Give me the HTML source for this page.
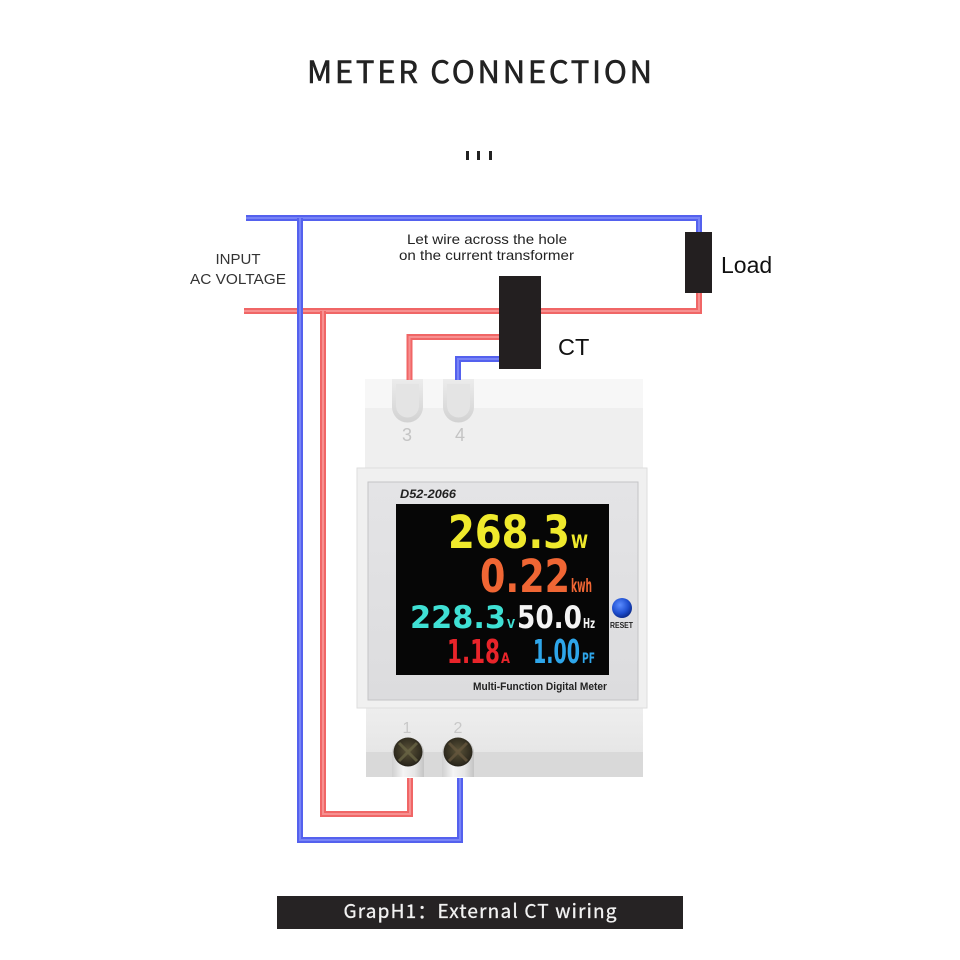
<!DOCTYPE html>
<html><head><meta charset="utf-8"><style>
html,body{margin:0;padding:0;background:#fff;}
svg{display:block;}
</style></head><body>
<svg width="960" height="960" viewBox="0 0 960 960" xmlns="http://www.w3.org/2000/svg">
<defs>
<radialGradient id="btn" cx="0.4" cy="0.35" r="0.7">
<stop offset="0" stop-color="#5a8cff"/><stop offset="0.6" stop-color="#1f4fd0"/><stop offset="1" stop-color="#0a2682"/>
</radialGradient>
<radialGradient id="scr" cx="0.5" cy="0.45" r="0.6">
<stop offset="0" stop-color="#5a5238"/><stop offset="0.8" stop-color="#2e2a1e"/><stop offset="1" stop-color="#1a1812"/>
</radialGradient>
<linearGradient id="cyl" x1="0" x2="1" y1="0" y2="0">
<stop offset="0" stop-color="#d0d0d0"/><stop offset="0.35" stop-color="#f4f4f4"/><stop offset="0.7" stop-color="#e6e6e6"/><stop offset="1" stop-color="#c4c4c4"/>
</linearGradient>
<linearGradient id="pocket" x1="0" x2="0" y1="0" y2="1">
<stop offset="0" stop-color="#ececec"/><stop offset="1" stop-color="#d2d2d2"/>
</linearGradient>
<linearGradient id="face" x1="0" x2="0" y1="0" y2="1">
<stop offset="0" stop-color="#e4e4e6"/><stop offset="1" stop-color="#dcdcde"/>
</linearGradient>
<linearGradient id="bot" x1="0" x2="0" y1="0" y2="1">
<stop offset="0" stop-color="#eeeeee"/><stop offset="1" stop-color="#e2e2e2"/>
</linearGradient>
</defs>

<!-- Title -->
<text x="307" y="83" font-family="'Noto Sans CJK SC','Liberation Sans',sans-serif" font-size="31" fill="#222" stroke="#222" stroke-width="0.6" textLength="345" lengthAdjust="spacing">METER CONNECTION</text>
<rect x="466" y="151" width="3" height="9" fill="#222"/>
<rect x="477" y="151" width="3" height="9" fill="#222"/>
<rect x="489" y="151" width="3" height="9" fill="#222"/>

<!-- Labels -->
<text x="238" y="264" text-anchor="middle" font-family="'Liberation Sans',sans-serif" font-size="15" fill="#333">INPUT</text>
<text x="190" y="284" font-family="'Liberation Sans',sans-serif" font-size="15" fill="#333" textLength="96" lengthAdjust="spacingAndGlyphs">AC VOLTAGE</text>
<text x="407" y="244" font-family="'Liberation Sans',sans-serif" font-size="14" fill="#222" textLength="160" lengthAdjust="spacingAndGlyphs">Let wire across the hole</text>
<text x="399" y="260" font-family="'Liberation Sans',sans-serif" font-size="14" fill="#222" textLength="175" lengthAdjust="spacingAndGlyphs">on the current transformer</text>

<!-- Meter body -->
<rect x="365" y="379" width="278" height="92" fill="#efefef"/>
<rect x="365" y="379" width="278" height="29" fill="#f7f7f7"/>
<!-- top pockets -->
<path d="M392,379 V407 A15.5,15.5 0 0 0 423,407 V379 Z" fill="url(#pocket)"/>
<path d="M396,384 V406 A11.5,11.5 0 0 0 419,406 V384 Z" fill="#e4e4e4"/>
<path d="M443,379 V407 A15.5,15.5 0 0 0 474,407 V379 Z" fill="url(#pocket)"/>
<path d="M447,384 V406 A11.5,11.5 0 0 0 470,406 V384 Z" fill="#e4e4e4"/>
<text x="407" y="441" text-anchor="middle" font-family="'Liberation Sans',sans-serif" font-size="18" fill="#c4c4c4">3</text>
<text x="460" y="441" text-anchor="middle" font-family="'Liberation Sans',sans-serif" font-size="18" fill="#c4c4c4">4</text>

<!-- bottom module -->
<rect x="366" y="706" width="277" height="71" fill="url(#bot)"/>
<rect x="366" y="752" width="277" height="25" fill="#d9d9d9"/>
<text x="407" y="733" text-anchor="middle" font-family="'Liberation Sans',sans-serif" font-size="16" fill="#c8c8c8">1</text>
<text x="458" y="733" text-anchor="middle" font-family="'Liberation Sans',sans-serif" font-size="16" fill="#c8c8c8">2</text>
<path d="M392,777 V753 A16,16 0 0 1 424,753 V777 Z" fill="url(#cyl)"/>
<path d="M442,777 V753 A16,16 0 0 1 474,753 V777 Z" fill="url(#cyl)"/>
<circle cx="408" cy="752" r="14.5" fill="url(#scr)"/>
<circle cx="458" cy="752" r="14.5" fill="url(#scr)"/>
<path d="M399,743 L417,761 M417,743 L399,761" stroke="#6e6a48" stroke-width="3" opacity="0.7"/>
<path d="M449,743 L467,761 M467,743 L449,761" stroke="#6a5a40" stroke-width="3" opacity="0.7"/>

<!-- front frame -->
<rect x="357" y="468" width="290" height="240" fill="#f0f0f0" stroke="#dedede" stroke-width="1"/>
<rect x="368" y="482" width="270" height="218" fill="url(#face)" stroke="#c4c4c6" stroke-width="1"/>
<rect x="396" y="504" width="213" height="171" fill="#060606"/>
<text x="400" y="498" font-family="'Liberation Sans',sans-serif" font-size="12" font-weight="bold" font-style="italic" fill="#222" textLength="56" lengthAdjust="spacingAndGlyphs">D52-2066</text>

<!-- display values -->
<g font-family="'DejaVu Sans','Liberation Sans',sans-serif" font-weight="bold">
<text x="448" y="548" font-size="45" fill="#efe92c" textLength="122" lengthAdjust="spacingAndGlyphs">268.3</text>
<text x="571" y="548" font-size="19" fill="#efe92c" textLength="17" lengthAdjust="spacingAndGlyphs">W</text>
<text x="480" y="592" font-size="45" fill="#f06634" textLength="90" lengthAdjust="spacingAndGlyphs">0.22</text>
<text x="571" y="592" font-size="19" fill="#f06634" textLength="21" lengthAdjust="spacingAndGlyphs">kwh</text>
<text x="410" y="628" font-size="31" fill="#3fe0d4" textLength="96" lengthAdjust="spacingAndGlyphs">228.3</text>
<text x="507" y="628" font-size="12" fill="#3fe0d4" textLength="8" lengthAdjust="spacingAndGlyphs">V</text>
<text x="517" y="628" font-size="31" fill="#f4f4f4" textLength="65" lengthAdjust="spacingAndGlyphs">50.0</text>
<text x="583" y="628" font-size="13" fill="#f4f4f4" textLength="12" lengthAdjust="spacingAndGlyphs">Hz</text>
<text x="447" y="663" font-size="33" fill="#e8242a" textLength="53" lengthAdjust="spacingAndGlyphs">1.18</text>
<text x="501" y="663" font-size="14" fill="#e8242a" textLength="9" lengthAdjust="spacingAndGlyphs">A</text>
<text x="533" y="663" font-size="33" fill="#2ea6ea" textLength="47" lengthAdjust="spacingAndGlyphs">1.00</text>
<text x="582" y="663" font-size="14" fill="#2ea6ea" textLength="13" lengthAdjust="spacingAndGlyphs">PF</text>
</g>
<circle cx="622" cy="608" r="10" fill="url(#btn)"/>
<text x="610" y="628" font-family="'Liberation Sans',sans-serif" font-size="8" font-weight="bold" fill="#222" textLength="23" lengthAdjust="spacingAndGlyphs">RESET</text>
<text x="473" y="690" font-family="'Liberation Sans',sans-serif" font-size="11" font-weight="bold" fill="#222" textLength="134" lengthAdjust="spacingAndGlyphs">Multi-Function Digital Meter</text>

<!-- Wires: red -->
<g fill="none" stroke-linejoin="miter" stroke-linecap="butt">
<path d="M244,311 H699 V293" stroke="#f06666" stroke-width="6"/>
<path d="M244,311 H699 V293" stroke="#f79090" stroke-width="2"/>
<path d="M323,311 V814 H410 V778" stroke="#f06666" stroke-width="6"/>
<path d="M323,311 V814 H410 V778" stroke="#f79090" stroke-width="2"/>
<path d="M409.5,380 V337 H500" stroke="#f06666" stroke-width="6"/>
<path d="M409.5,380 V337 H500" stroke="#f79090" stroke-width="2"/>
<!-- blue -->
<path d="M246,218 H699 V233" stroke="#5461ee" stroke-width="6"/>
<path d="M246,218 H699 V233" stroke="#7884f6" stroke-width="2"/>
<path d="M300,218 V840 H460 V778" stroke="#5461ee" stroke-width="6"/>
<path d="M300,218 V840 H460 V778" stroke="#7884f6" stroke-width="2"/>
<path d="M458,380 V359 H500" stroke="#5461ee" stroke-width="6"/>
<path d="M458,380 V359 H500" stroke="#7884f6" stroke-width="2"/>
</g>

<!-- CT & Load -->
<rect x="499" y="276" width="42" height="93" fill="#231f20"/>
<text x="558" y="355" font-family="'Liberation Sans',sans-serif" font-size="23.5" fill="#111">CT</text>
<rect x="685" y="232" width="27" height="61" fill="#231f20"/>
<text x="721" y="273" font-family="'Liberation Sans',sans-serif" font-size="23" fill="#111">Load</text>

<!-- Caption -->
<rect x="277" y="896" width="406" height="33" fill="#262324"/>
<text x="480" y="918" text-anchor="middle" font-family="'Noto Sans CJK SC','Liberation Sans',sans-serif" font-size="19" fill="#f2f2f2" stroke="#f2f2f2" stroke-width="0.3" textLength="273" lengthAdjust="spacing">GrapH1：External CT wiring</text>
</svg>
</body></html>
